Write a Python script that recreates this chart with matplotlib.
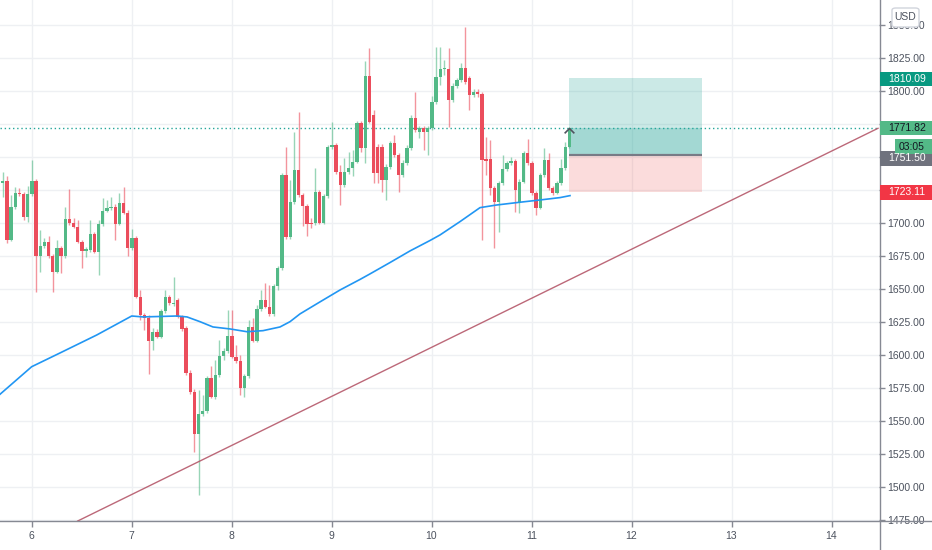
import matplotlib
matplotlib.use('Agg')
import matplotlib.pyplot as plt
import matplotlib.transforms as mtransforms
from matplotlib.patches import Rectangle, FancyBboxPatch
from matplotlib.lines import Line2D
from matplotlib.path import Path
import numpy as np

plt.rcParams['font.family'] = ['Liberation Sans', 'DejaVu Sans']

## hourly candles, first visible one at day 5.712
t0 = 5.712
opens = [1730.1, 1731.8, 1687.1, 1711.9, 1723.0, 1721.7, 1704.3, 1721.7, 1731.8, 1675.0,
         1682.5, 1685.6, 1675.0, 1663.1, 1680.8, 1675.0, 1702.8, 1700.2, 1697.2, 1685.8,
         1679.0, 1679.5, 1691.4, 1678.2, 1699.2, 1709.3, 1711.1, 1712.3, 1699.2, 1714.9,
         1707.8, 1680.8, 1688.4, 1644.1, 1630.3, 1628.2, 1610.8, 1617.6, 1613.8, 1633.3,
         1643.9, 1638.6, 1641.6, 1629.0, 1620.2, 1586.5, 1572.1, 1540.1, 1555.3, 1557.3,
         1582.5, 1568.4, 1584.8, 1599.2, 1603.0, 1614.3, 1598.7, 1595.4, 1575.0, 1584.0,
         1621.2, 1610.8, 1634.8, 1641.6, 1636.5, 1631.0, 1652.2, 1665.9, 1736.4, 1689.1,
         1716.1, 1740.1, 1721.2, 1712.9, 1700.2, 1700.2, 1723.7, 1700.2, 1720.5, 1757.6,
         1759.1, 1738.9, 1728.8, 1738.9, 1741.6, 1746.4, 1775.7, 1756.6, 1811.4, 1781.8,
         1757.8, 1757.8, 1732.6, 1742.6, 1760.4, 1751.5, 1736.4, 1745.7, 1756.6, 1779.3,
         1769.2, 1771.7, 1768.7, 1771.7, 1791.4, 1810.8, 1816.7, 1816.7, 1793.2, 1804.0,
         1808.3, 1817.6, 1809.8, 1797.0, 1799.5, 1797.5, 1748.1, 1748.5, 1726.3, 1716.1,
         1730.1, 1740.7, 1745.2, 1746.9, 1715.4, 1731.3, 1752.8, 1745.2, 1722.5, 1711.6,
         1736.4, 1747.7, 1726.3, 1723.0, 1730.1, 1741.4, 1757.8]
highs = [1738.9, 1735.6, 1721.2, 1727.3, 1726.5, 1723.5, 1728.0, 1747.7, 1733.3, 1694.7,
         1688.6, 1690.1, 1676.5, 1687.1, 1682.5, 1712.3, 1725.5, 1703.8, 1702.2, 1687.1,
         1681.8, 1702.2, 1693.2, 1702.2, 1718.7, 1717.4, 1719.9, 1714.4, 1722.5, 1727.0,
         1709.8, 1695.2, 1690.1, 1649.2, 1631.8, 1630.3, 1620.4, 1619.7, 1634.8, 1649.2,
         1645.4, 1659.3, 1643.1, 1630.3, 1621.9, 1588.6, 1574.2, 1573.4, 1569.6, 1584.0,
         1591.6, 1596.2, 1611.3, 1605.3, 1634.0, 1634.0, 1607.5, 1600.0, 1585.6, 1626.5,
         1628.0, 1637.8, 1649.2, 1654.5, 1653.0, 1653.7, 1667.4, 1737.9, 1757.8, 1732.6,
         1769.2, 1784.3, 1722.7, 1714.4, 1703.8, 1741.6, 1725.0, 1722.0, 1759.1, 1776.7,
         1760.6, 1743.9, 1749.2, 1753.8, 1755.3, 1777.3, 1777.3, 1822.9, 1832.3, 1785.6,
         1759.8, 1759.8, 1744.7, 1762.1, 1766.7, 1753.0, 1747.7, 1759.1, 1781.8, 1799.5,
         1773.5, 1773.5, 1773.5, 1796.2, 1833.6, 1833.6, 1823.5, 1832.3, 1806.0, 1809.8,
         1821.2, 1848.7, 1811.4, 1801.5, 1801.5, 1799.2, 1765.2, 1762.9, 1728.0, 1731.8,
         1751.5, 1746.9, 1750.2, 1748.5, 1733.3, 1754.5, 1763.4, 1746.9, 1724.2, 1737.9,
         1756.6, 1753.2, 1728.0, 1731.8, 1748.2, 1761.6, 1772.7]
lows = [1719.9, 1685.0, 1686.0, 1710.6, 1720.5, 1702.2, 1700.9, 1720.5, 1647.9, 1663.1,
        1681.0, 1673.4, 1647.9, 1662.1, 1661.9, 1673.4, 1698.5, 1696.2, 1684.8, 1665.6,
        1674.0, 1678.0, 1677.2, 1660.6, 1697.7, 1708.3, 1709.8, 1687.1, 1698.5, 1706.8,
        1675.0, 1679.5, 1643.1, 1626.5, 1618.9, 1585.6, 1603.7, 1612.8, 1612.8, 1631.8,
        1637.8, 1637.1, 1628.0, 1618.1, 1584.8, 1570.4, 1526.7, 1493.9, 1553.7, 1556.0,
        1567.4, 1566.6, 1583.3, 1596.2, 1601.5, 1597.7, 1593.9, 1569.6, 1568.4, 1582.5,
        1609.8, 1609.8, 1633.3, 1635.6, 1629.5, 1629.5, 1649.2, 1664.4, 1687.9, 1687.9,
        1714.4, 1719.7, 1697.7, 1690.1, 1696.2, 1698.5, 1699.2, 1699.2, 1718.9, 1756.0,
        1737.1, 1713.6, 1727.3, 1737.1, 1735.6, 1745.4, 1753.8, 1745.4, 1775.7, 1730.3,
        1730.1, 1723.7, 1717.4, 1740.9, 1750.0, 1723.7, 1734.8, 1743.9, 1755.3, 1768.9,
        1764.4, 1755.3, 1751.5, 1770.4, 1790.1, 1804.5, 1812.1, 1773.0, 1791.7, 1802.3,
        1806.8, 1805.3, 1785.6, 1795.5, 1795.5, 1687.1, 1736.4, 1721.2, 1680.8, 1693.4,
        1728.8, 1739.4, 1743.9, 1708.6, 1707.3, 1730.3, 1743.9, 1721.2, 1706.0, 1710.6,
        1734.8, 1725.0, 1721.2, 1722.0, 1728.8, 1740.1, 1756.8]
closes = [1731.8, 1687.1, 1711.9, 1723.0, 1721.7, 1704.3, 1721.7, 1731.8, 1675.0, 1682.5,
          1685.6, 1675.0, 1663.1, 1680.8, 1675.0, 1702.8, 1700.2, 1697.2, 1685.8, 1679.0,
          1680.0, 1691.4, 1678.2, 1699.2, 1709.3, 1711.1, 1712.3, 1699.2, 1714.9, 1707.8,
          1680.8, 1688.4, 1644.1, 1630.3, 1628.2, 1610.8, 1617.6, 1613.8, 1633.3, 1643.9,
          1639.6, 1639.6, 1629.0, 1619.7, 1586.5, 1572.1, 1540.1, 1555.3, 1557.3, 1582.5,
          1568.4, 1584.8, 1599.2, 1603.0, 1614.3, 1598.7, 1595.4, 1575.0, 1584.0, 1621.2,
          1610.8, 1634.8, 1641.6, 1636.5, 1631.0, 1652.2, 1665.9, 1736.4, 1689.1, 1716.1,
          1740.1, 1721.2, 1712.9, 1699.2, 1699.2, 1723.7, 1700.2, 1720.5, 1757.6, 1759.1,
          1738.9, 1728.8, 1738.9, 1741.6, 1746.4, 1775.7, 1756.6, 1811.4, 1776.7, 1737.6,
          1737.6, 1732.6, 1742.6, 1760.4, 1751.5, 1736.4, 1745.7, 1756.6, 1779.3, 1770.4,
          1771.7, 1768.7, 1771.7, 1791.4, 1810.8, 1816.7, 1817.2, 1793.2, 1804.0, 1808.3,
          1817.6, 1806.8, 1797.0, 1799.5, 1797.5, 1747.7, 1747.3, 1726.3, 1716.1, 1730.1,
          1740.7, 1745.2, 1746.9, 1725.0, 1731.3, 1752.8, 1745.2, 1722.5, 1711.6, 1736.4,
          1747.7, 1726.3, 1723.0, 1730.1, 1741.4, 1757.8, 1771.82]

## moving average
sma_day = [5.685, 6.002, 6.285, 6.652, 7.002, 7.115, 7.455, 7.555, 7.685, 7.815,
           7.985, 8.155, 8.315, 8.485, 8.585, 8.685, 8.885, 9.085, 9.285, 9.385,
           9.585, 9.785, 9.985, 10.085, 10.285, 10.485, 10.652, 10.885, 11.085, 11.285, 11.385]
sma_val = [1570.2, 1591.1, 1601.5, 1615.1, 1629.5, 1628.8, 1629.5, 1628.8, 1625.2, 1621.2,
           1619.7, 1617.6, 1618.4, 1621.2, 1625.2, 1631.1, 1640.2, 1649.2, 1657.2, 1661.4,
           1670.0, 1678.8, 1686.7, 1690.9, 1701.0, 1711.6, 1713.6, 1715.7, 1717.4, 1719.2, 1720.7]

## trend line
trend_day = [6.462, 14.465]
trend_val = [1474.2, 1771.7]

## long position tool
pos_start, pos_end = 11.378, 12.708
target, entry, stop, last = 1810.09, 1751.50, 1723.11, 1771.82
timer = '03:05'

day_ticks = [6, 7, 8, 9, 10, 11, 12, 13, 14]
price_ticks = [1475, 1500, 1525, 1550, 1575, 1600, 1625, 1650, 1675, 1700,
               1725, 1750, 1775, 1800, 1825, 1850]
hidden_ticks = [1725, 1750, 1775]   # sit under the coloured price tags

GREEN = '#53b987'
RED = '#eb4d5c'
TEAL = '#26a69a'
AXC = '#868993'
TXT = '#4c525e'

W, H = 932, 550
fig = plt.figure(figsize=(W / 100, H / 100), dpi=100)
fig.patch.set_facecolor('white')
ax = fig.add_axes([0, 29 / H, 879 / W, 521 / H])
ax.set_xlim(5.685, 14.475)
ax.set_ylim(1474.2, 1868.9)
for s in ax.spines.values():
    s.set_visible(False)

ax.set_xticks(day_ticks)
ax.set_xticklabels([str(d) for d in day_ticks])
ax.set_yticks(price_ticks)
ax.set_yticklabels(['' if p in hidden_ticks else '%.2f' % p for p in price_ticks])
ax.yaxis.tick_right()
ax.grid(color='#eef0f3', lw=1, zorder=0)
ax.tick_params(axis='both', direction='out', length=4, width=1, color=AXC,
               labelsize=7.5, labelcolor=TXT)
ax.tick_params(axis='y', pad=2)
ax.tick_params(axis='x', pad=3)

## candles
o = np.array(opens)
h = np.array(highs)
l = np.array(lows)
c = np.array(closes)
t = t0 + np.arange(len(o)) / 24.0
up = c >= o
col = np.where(up, GREEN, RED)
ax.vlines(t, l, h, colors=col, lw=1.0, alpha=0.6, zorder=3)
ax.bar(t, np.maximum(np.abs(c - o), 0.8), bottom=np.minimum(o, c), width=0.033,
       color=col, lw=0, zorder=4)

ax.plot(sma_day, sma_val, color='#2196f3', lw=1.2, zorder=5)
ax.plot(trend_day, trend_val, color='#b5586a', lw=1.0, alpha=0.9, zorder=5)

## position box
ax.fill_between([pos_start, pos_end], entry, target, color=TEAL, alpha=0.24, lw=0, zorder=2)
ax.fill_between([pos_start, pos_end], entry, last, color=TEAL, alpha=0.24, lw=0, zorder=2)
ax.fill_between([pos_start, pos_end], stop, entry, color='#ef5350', alpha=0.2, lw=0, zorder=2)
ax.hlines(entry, pos_start, pos_end, color='#787b86', lw=1.6, zorder=6)
ax.axhline(last, color=TEAL, ls=(0, (1, 2)), lw=1, zorder=2)
chev = Path([(-1, -1), (0, 0), (1, -1)], [Path.MOVETO, Path.LINETO, Path.LINETO])
ax.plot([t[-1]], [last], marker=chev, ms=7, mfc='none', mec='#50535e', mew=1.2, zorder=7)

## axis lines
fig.add_artist(Line2D([0, 1], [29 / H, 29 / H], transform=fig.transFigure, color=AXC, lw=1))
fig.add_artist(Line2D([879.5 / W, 879.5 / W], [0, 1], transform=fig.transFigure, color=AXC, lw=1))

## price tags on the scale
trans = mtransforms.blended_transform_factory(fig.transFigure, ax.transData)


def tag(y, txt, face, tcolor, x0=880, xt=888):
    fig.add_artist(Rectangle((x0 / W, y - 5.5), 1 - x0 / W, 11, transform=trans,
                             facecolor=face, edgecolor='none', zorder=5))
    fig.text(xt / W, y, txt, transform=trans, color=tcolor, fontsize=7.5,
             ha='left', va='center', zorder=6)


tag(target - 1.1, '%.2f' % target, '#089981', 'white')
tag(last, '%.2f' % last, GREEN, '#131722')
tag(entry - 2.6, '%.2f' % entry, '#6f727d', 'white')
tag(last - 14.0, timer, GREEN, '#131722', x0=895, xt=899)
tag(stop, '%.2f' % stop, '#f23645', 'white')

## currency box
fig.add_artist(FancyBboxPatch((892 / W, 1 - 27 / H), 27 / W, 19 / H, transform=fig.transFigure,
                              boxstyle='round,pad=0,rounding_size=0.004', facecolor='white',
                              edgecolor='#d1d4dc', lw=1, zorder=7))
fig.text(905.5 / W, 1 - 17.5 / H, 'USD', color=TXT, fontsize=7.5, ha='center', va='center', zorder=8)

fig.savefig('out.png', dpi=100)
